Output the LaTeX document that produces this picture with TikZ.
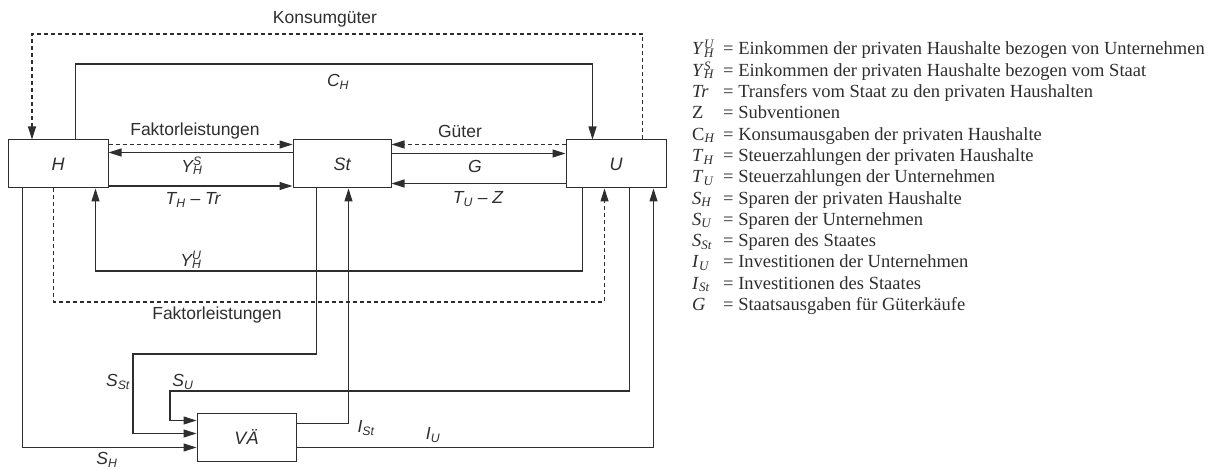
\documentclass[tikz,border=0pt]{standalone}
\usepackage{fontspec}
\setmainfont{Liberation Serif}
\newfontfamily\labelfont{Liberation Sans}
\usetikzlibrary{arrows.meta}
\definecolor{ink}{gray}{0.18}

% stacked sub- and superscript
\newcommand{\subsup}[3]{#1\rlap{\textsuperscript{#3}}\textsubscript{#2}}

\tikzset{
  box/.style={draw=ink, line width=1pt, minimum width=100pt, minimum height=48pt,
    inner sep=0pt, font=\labelfont\itshape\fontsize{18}{20}\selectfont, text=ink},
  flow/.style={draw=ink, line width=1.1pt, -{Triangle[length=13pt,width=8pt]}},
  goods/.style={flow, dash pattern=on 4pt off 3pt},
  lab/.style={font=\labelfont\fontsize{17.5}{20}\selectfont, text=ink, inner sep=0pt},
  ilab/.style={lab, font=\labelfont\itshape\fontsize{17.5}{20}\selectfont},
  legtxt/.style={font=\fontsize{18.5}{21}\selectfont, text=ink, inner sep=0pt, anchor=base west},
}

\begin{document}
\begin{tikzpicture}[x=1pt, y=-1pt]
\useasboundingbox (0,0) rectangle (1224,470);

% sectors
\node[box] (H)  at (58,164)    {H};
\node[box, minimum width=98pt] (St) at (342,164) {St};
\node[box] (U)  at (616,164)   {U};
\node[box, minimum width=99pt] (VA) at (246.5,437) {VÄ};

% bend points
\coordinate (kA) at (32,34);
\coordinate (cA) at (300,64);
\coordinate (yA) at (300,271);
\coordinate (fA) at (300,302);
\coordinate (sA) at (133,354);
\coordinate (uA) at (170,391);

% consumption goods and consumption spending
\draw[goods] ([xshift=77pt]U.north west) |- (kA) -- (kA |- H.north);
\draw[flow] ([xshift=68pt]H.north west) |- (cA) -| ([xshift=27pt]U.north west);

% households <-> state
\draw[goods] ([yshift=-5pt]H.north east) -- ([yshift=-5pt]St.north west);
\draw[flow] ([yshift=-13pt]St.north west) -- ([yshift=-13pt]H.north east);
\draw[flow] ([yshift=2.5pt]H.south east) -- ([yshift=2.5pt]St.south west);

% state <-> firms
\draw[goods] ([yshift=-5pt]U.north west) -- ([yshift=-5pt]St.north east);
\draw[flow] ([yshift=-14pt]St.north east) -- ([yshift=-14pt]U.north west);
\draw[flow] ([yshift=5pt]U.south west) -- ([yshift=5pt]St.south east);

% firms <-> households below
\draw[flow] ([xshift=17pt]U.south west) |- (yA) -| ([xshift=88pt]H.south west);
\draw[goods] ([xshift=46pt]H.south west) |- (fA) -| ([xshift=39pt]U.south west);

% savings into VÄ
\draw[flow] ([xshift=15pt]H.south west) |- ([yshift=-35pt]VA.north west);
\draw[flow] ([xshift=24pt]St.south west) |- (sA) |- ([yshift=-21pt]VA.north west);
\draw[flow] ([xshift=64pt]U.south west) |- (uA) |- ([yshift=-8pt]VA.north west);

% investment out of VÄ
\draw[flow] ([yshift=-11pt]VA.north east) -| ([xshift=56pt]St.south west);
\draw[flow] ([yshift=-35pt]VA.north east) -| ([xshift=88pt]U.south west);

% labels
\node[lab]  (lK)  at (325,19)  {Konsumgüter};
\node[ilab] (lC)  at (338,82)  {C\textsubscript{H}};
\node[lab]  (lF1) at (195,131) {Faktorleistungen};
\node[ilab] (lYS) at (192,166) {\subsup{Y}{H}{S}};
\node[ilab] (lTH) at (193,200) {T\textsubscript{H} – Tr};
\node[lab]  (lG1) at (460,131) {Güter};
\node[ilab] (lG)  at (475,166) {G};
\node[ilab] (lTU) at (478,199) {T\textsubscript{U} – Z};
\node[ilab] (lYU) at (191,260) {\subsup{Y}{H}{U}};
\node[lab]  (lF2) at (217,315) {Faktorleistungen};
\node[ilab] (lSS) at (118,382) {S\textsubscript{St}};
\node[ilab] (lSU) at (183,382) {S\textsubscript{U}};
\node[ilab] (lSH) at (107,460) {S\textsubscript{H}};
\node[ilab] (lIS) at (366,428) {I\textsubscript{St}};
\node[ilab] (lIU) at (433,435) {I\textsubscript{U}};

% legend
\foreach \s/\t [count=\i from 0] in {
  {\subsup{\textit{Y}}{\textit{H}}{\textit{U}}}/{Einkommen der privaten Haushalte bezogen von Unternehmen},
  {\subsup{\textit{Y}}{\textit{H}}{\textit{S}}}/{Einkommen der privaten Haushalte bezogen vom Staat},
  {\textit{Tr}}/{Transfers vom Staat zu den privaten Haushalten},
  {Z}/{Subventionen},
  {C\textsubscript{\textit{H}}}/{Konsumausgaben der privaten Haushalte},
  {\textit{T}\textsubscript{\textit{H}}}/{Steuerzahlungen der privaten Haushalte},
  {\textit{T}\textsubscript{\textit{U}}}/{Steuerzahlungen der Unternehmen},
  {\textit{S}\textsubscript{\textit{H}}}/{Sparen der privaten Haushalte},
  {\textit{S}\textsubscript{\textit{U}}}/{Sparen der Unternehmen},
  {\textit{S}\textsubscript{\textit{St}}}/{Sparen des Staates},
  {\textit{I}\textsubscript{\textit{U}}}/{Investitionen der Unternehmen},
  {\textit{I}\textsubscript{\textit{St}}}/{Investitionen des Staates},
  {\textit{G}}/{Staatsausgaben für Güterkäufe}} {
  \node[legtxt] (sym\i) at (692,55+21.3*\i) {\s};
  \node[legtxt] (txt\i) at (723,55+21.3*\i) {= \t};
}
\end{tikzpicture}
\end{document}
